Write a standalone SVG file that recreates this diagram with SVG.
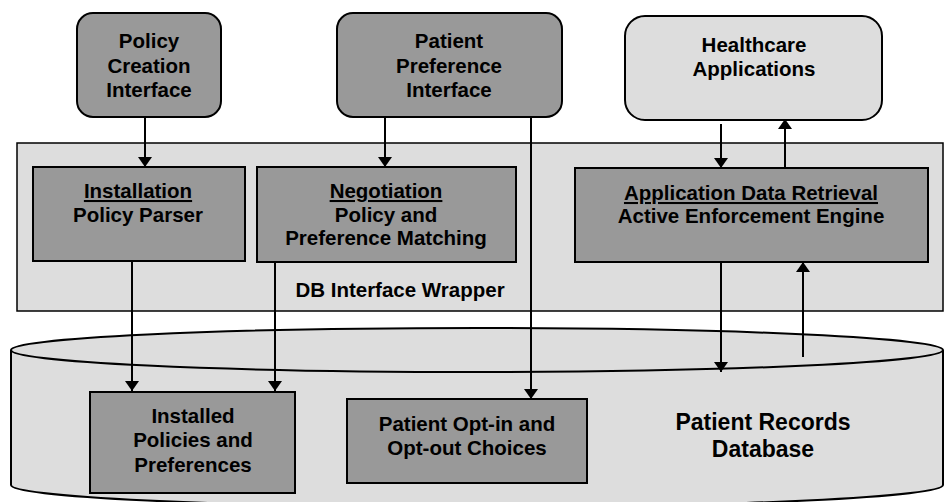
<svg xmlns="http://www.w3.org/2000/svg" width="945" height="502" viewBox="0 0 945 502">
<style>
text{font-family:"Liberation Sans",Arial,sans-serif;font-weight:bold;font-size:20.5px;fill:#000;text-anchor:middle}
.dark{fill:#999999;stroke:#000;stroke-width:2}
.light{fill:#dddddd;stroke:#000;stroke-width:2}
.wrap{fill:#dddddd;stroke:#000;stroke-width:1.5}
.ln{stroke:#000;stroke-width:2;fill:none}
.big{font-size:23px}
</style>
<defs>
<marker id="ah" markerWidth="10" markerHeight="14" refX="10" refY="7" orient="auto" markerUnits="userSpaceOnUse" viewBox="0 0 10 14">
<path d="M0,0 L10,7 L0,14 Z" fill="#000"/>
</marker>
</defs>
<g id="wrapper">
<rect class="wrap" x="17" y="143" width="926" height="168"/>
<text x="400" y="297">DB Interface Wrapper</text>
</g>
<g id="database">
<path class="light" d="M11,350 L11,485 A466,22 0 0 0 943,485 L943,350"/>
<ellipse class="light" cx="477" cy="350" rx="466" ry="22"/>
<text class="big" x="763" y="430">Patient Records</text>
<text class="big" x="763" y="457">Database</text>
</g>
<g id="policy-creation">
<rect class="dark" x="77" y="13" width="144" height="104" rx="16"/>
<text x="149" y="48">Policy</text>
<text x="149" y="73">Creation</text>
<text x="149" y="97">Interface</text>
</g>
<g id="patient-preference">
<rect class="dark" x="337" y="13" width="225" height="104" rx="16"/>
<text x="449" y="48">Patient</text>
<text x="449" y="73">Preference</text>
<text x="449" y="97">Interface</text>
</g>
<g id="healthcare">
<rect class="light" x="625" y="16" width="257" height="104" rx="20"/>
<text x="754" y="52">Healthcare</text>
<text x="754" y="76">Applications</text>
</g>
<g id="installation">
<rect class="dark" x="33" y="167" width="212" height="94"/>
<text x="138" y="198" text-decoration="underline">Installation</text>
<text x="138" y="222">Policy Parser</text>
</g>
<g id="negotiation">
<rect class="dark" x="257" y="167" width="259" height="95"/>
<text x="386" y="198" text-decoration="underline">Negotiation</text>
<text x="386" y="222">Policy and</text>
<text x="386" y="245">Preference Matching</text>
</g>
<g id="adr">
<rect class="dark" x="575" y="168" width="353" height="94"/>
<text x="751" y="200" text-decoration="underline">Application Data Retrieval</text>
<text x="751" y="223">Active Enforcement Engine</text>
</g>
<g id="installed">
<rect class="dark" x="90" y="392" width="205" height="101"/>
<text x="193" y="423">Installed</text>
<text x="193" y="447">Policies and</text>
<text x="193" y="472">Preferences</text>
</g>
<g id="optin">
<rect class="dark" x="347" y="399" width="240" height="84"/>
<text x="467" y="431">Patient Opt-in and</text>
<text x="467" y="455">Opt-out Choices</text>
</g>
<g id="connectors">
<line class="ln" x1="145" y1="117" x2="145" y2="167" marker-end="url(#ah)"/>
<line class="ln" x1="385" y1="117" x2="385" y2="167" marker-end="url(#ah)"/>
<line class="ln" x1="531" y1="117" x2="531" y2="399" marker-end="url(#ah)"/>
<line class="ln" x1="721" y1="124" x2="721" y2="168" marker-end="url(#ah)"/>
<line class="ln" x1="785" y1="168" x2="785" y2="119" marker-end="url(#ah)"/>
<line class="ln" x1="132" y1="261" x2="132" y2="391" marker-end="url(#ah)"/>
<line class="ln" x1="275" y1="262" x2="275" y2="391" marker-end="url(#ah)"/>
<line class="ln" x1="721" y1="262" x2="721" y2="372" marker-end="url(#ah)"/>
<line class="ln" x1="803" y1="357" x2="803" y2="262" marker-end="url(#ah)"/>
</g>
</svg>
